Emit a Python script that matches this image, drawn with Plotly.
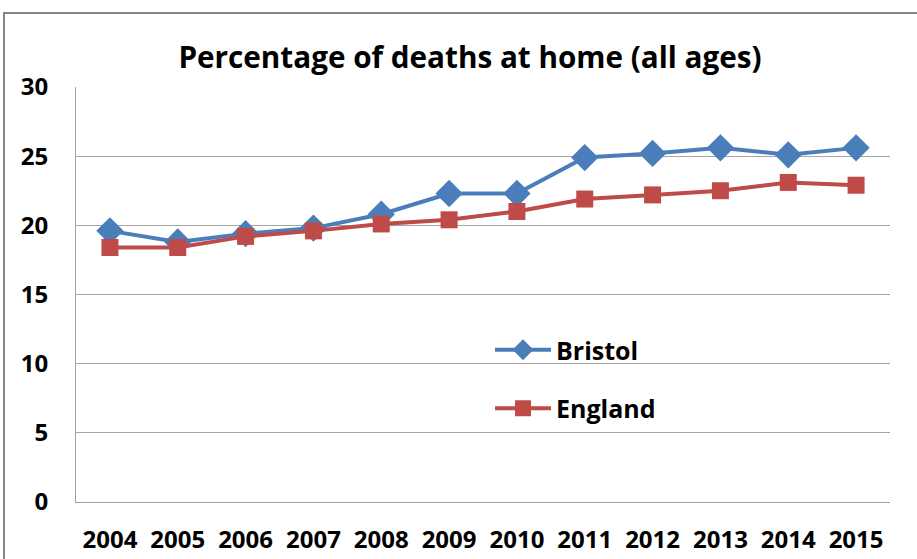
import plotly.graph_objects as go

years = ["2004", "2005", "2006", "2007", "2008", "2009", "2010", "2011", "2012", "2013", "2014", "2015"]
bristol = [19.6, 18.8, 19.4, 19.8, 20.8, 22.3, 22.3, 24.9, 25.2, 25.6, 25.1, 25.6]
england = [18.4, 18.4, 19.2, 19.6, 20.1, 20.4, 21.0, 21.9, 22.2, 22.5, 23.1, 22.9]
y_ticks = [0, 5, 10, 15, 20, 25, 30]

W, H = 917, 559
ml, mr, mt, mb = 76, 27, 87, 57
pw, ph = W - ml - mr, H - mt - mb

font_family = "Open Sans, sans-serif"

fig = go.Figure()
fig.add_trace(go.Scatter(
    x=years, y=bristol, name="<b>Bristol</b>", mode="lines+markers", legendgroup="a",
    line=dict(color="#4a7ebb", width=4),
    marker=dict(symbol="diamond", size=21, color="#4a7ebb"),
))
fig.add_trace(go.Scatter(
    x=years, y=england, name="<b>England</b>", mode="lines+markers", legendgroup="b",
    line=dict(color="#be4b48", width=4),
    marker=dict(symbol="square", size=17, color="#be4b48"),
))

fig.update_layout(
    width=W, height=H,
    margin=dict(l=ml, r=mr, t=mt, b=mb, autoexpand=False),
    paper_bgcolor="white", plot_bgcolor="white",
    title=dict(text="<b>Percentage of deaths at home (all ages)</b>",
               x=470 / W, xanchor="center", y=1 - 58 / H, yanchor="middle",
               font=dict(family=font_family, size=29.7, color="black")),
    font=dict(family=font_family, color="black"),
    showlegend=True,
    legend=dict(x=(490 - ml) / pw, xanchor="left", y=1 - (327 - mt) / ph, yanchor="top",
                bgcolor="rgba(0,0,0,0)", font=dict(size=25, family=font_family, color="black"),
                tracegroupgap=23, traceorder="grouped", itemsizing="trace", itemwidth=56),
)
fig.update_xaxes(
    type="category", range=[-0.5, len(years) - 0.5],
    showgrid=False, showline=True, linecolor="#a0a0a0", linewidth=1,
    automargin=False,
    ticks="outside", ticklen=16, tickcolor="rgba(0,0,0,0)",
    tickmode="array", tickvals=years, ticktext=["<b>%s</b>" % y for y in years],
    tickfont=dict(size=24, family=font_family, color="black"),
)
fig.update_yaxes(
    range=[0, 30], showgrid=True, gridcolor="#a6a6a6", gridwidth=1,
    showline=True, linecolor="#a0a0a0", linewidth=1, zeroline=False, automargin=False,
    ticks="outside", ticklen=22, tickcolor="rgba(0,0,0,0)",
    tickmode="array", tickvals=y_ticks, ticktext=["<b>%d</b>" % v for v in y_ticks],
    tickfont=dict(size=24, family=font_family, color="black"),
)

# outer chart border
fig.add_shape(type="rect", xref="paper", yref="paper",
              x0=(4 - ml) / pw, x1=(W + 20 - ml) / pw,
              y0=-(H + 20 - mt - ph) / ph, y1=1 + (mt - 13) / ph,
              line=dict(color="#868686", width=2), fillcolor="rgba(0,0,0,0)", layer="below")

fig.write_html("out.html", config={"displayModeBar": False},
               post_script="document.body.style.margin='0';document.body.style.overflow='hidden';")
